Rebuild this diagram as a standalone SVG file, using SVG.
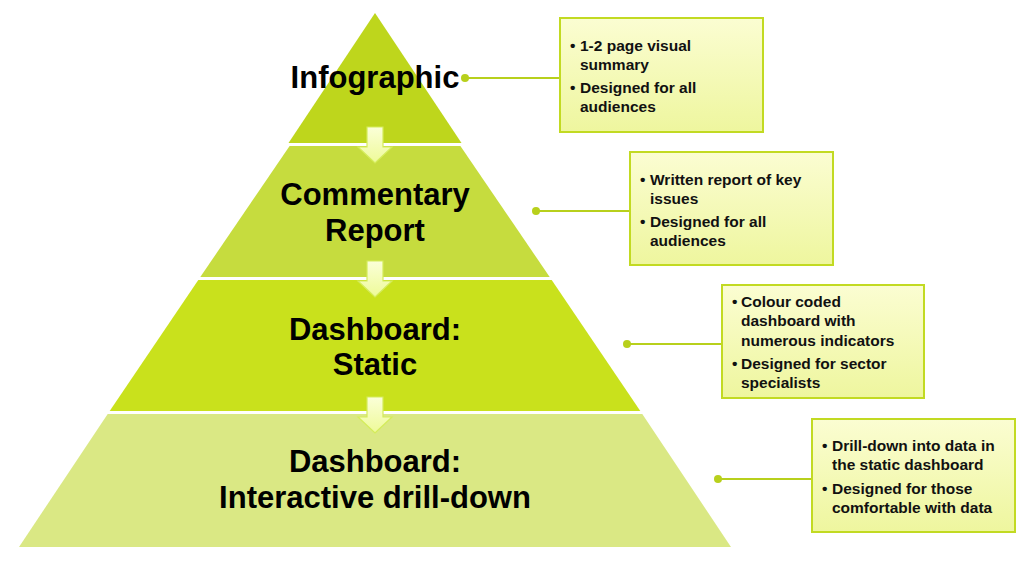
<svg xmlns="http://www.w3.org/2000/svg" width="1024" height="567" viewBox="0 0 1024 567">
<defs>
<linearGradient id="boxg" x1="0" y1="0" x2="0" y2="1">
<stop offset="0" stop-color="#fbfdd2"/>
<stop offset="1" stop-color="#eef69e"/>
</linearGradient>
<linearGradient id="arrg" x1="0" y1="0" x2="0" y2="1">
<stop offset="0" stop-color="#fbffd8"/>
<stop offset="1" stop-color="#eefa98"/>
</linearGradient>
<path id="arr" d="M-8,0 H8 V20 H17 L0,36 L-17,20 H-8 Z"/>
</defs>
<style>
.tier text{font-family:"Liberation Sans",Arial,sans-serif;font-weight:bold;font-size:31px;fill:#000;text-anchor:middle}
.box rect{fill:url(#boxg);stroke:#c2da22;stroke-width:2}
.box text{font-family:"Liberation Sans",Arial,sans-serif;font-weight:bold;font-size:15.5px;fill:#111}
.conn line{stroke:#b8d01c;stroke-width:2}
.conn circle{fill:#b8d01c}
.arrow use{fill:url(#arrg);stroke:#d4ec5a;stroke-width:1.2}
</style>
<rect width="1024" height="567" fill="#fff"/>
<g id="tier1" class="tier">
<polygon points="375,13 461.5,143 288.5,143" fill="#bed61c"/>
<text x="375" y="88">Infographic</text>
</g>
<g id="tier2" class="tier">
<polygon points="289.6,146 460.4,146 549.7,277 200.3,277" fill="#c6dc3e"/>
<text x="375" y="205">Commentary</text>
<text x="375" y="241">Report</text>
</g>
<g id="tier3" class="tier">
<polygon points="198.3,280 551.7,280 640.3,411 109.7,411" fill="#c9e11c"/>
<text x="375" y="340">Dashboard:</text>
<text x="375" y="375">Static</text>
</g>
<g id="tier4" class="tier">
<polygon points="107.7,414 642.3,414 731,547 19,547" fill="#dae884"/>
<text x="375" y="472">Dashboard:</text>
<text x="375" y="508">Interactive drill-down</text>
</g>
<g id="arrows" class="arrow">
<use href="#arr" x="375" y="127"/>
<use href="#arr" x="375" y="261"/>
<use href="#arr" x="375" y="397"/>
</g>
<g id="connectors" class="conn">
<line x1="465" y1="78" x2="560" y2="78"/><circle cx="465" cy="78" r="4"/>
<line x1="536" y1="211" x2="630" y2="211"/><circle cx="536" cy="211" r="4"/>
<line x1="627" y1="344" x2="722" y2="344"/><circle cx="627" cy="344" r="4"/>
<line x1="718" y1="479" x2="812" y2="479"/><circle cx="718" cy="479" r="4"/>
</g>
<g id="box1" class="box">
<rect x="560" y="18" width="203" height="114"/>
<text x="570" y="51">•</text><text x="580" y="51">1-2 page visual</text>
<text x="580" y="70">summary</text>
<text x="570" y="93">•</text><text x="580" y="93">Designed for all</text>
<text x="580" y="112">audiences</text>
</g>
<g id="box2" class="box">
<rect x="630" y="152" width="203" height="113"/>
<text x="640" y="185">•</text><text x="650" y="185">Written report of key</text>
<text x="650" y="204">issues</text>
<text x="640" y="227">•</text><text x="650" y="227">Designed for all</text>
<text x="650" y="246">audiences</text>
</g>
<g id="box3" class="box">
<rect x="722" y="285" width="202" height="113"/>
<text x="732" y="307">•</text><text x="741" y="307">Colour coded</text>
<text x="741" y="326">dashboard with</text>
<text x="741" y="346">numerous indicators</text>
<text x="732" y="369">•</text><text x="741" y="369">Designed for sector</text>
<text x="741" y="388">specialists</text>
</g>
<g id="box4" class="box">
<rect x="812" y="419" width="203" height="113"/>
<text x="822" y="451">•</text><text x="832" y="451">Drill-down into data in</text>
<text x="832" y="470">the static dashboard</text>
<text x="822" y="494">•</text><text x="832" y="494">Designed for those</text>
<text x="832" y="513">comfortable with data</text>
</g>
</svg>
